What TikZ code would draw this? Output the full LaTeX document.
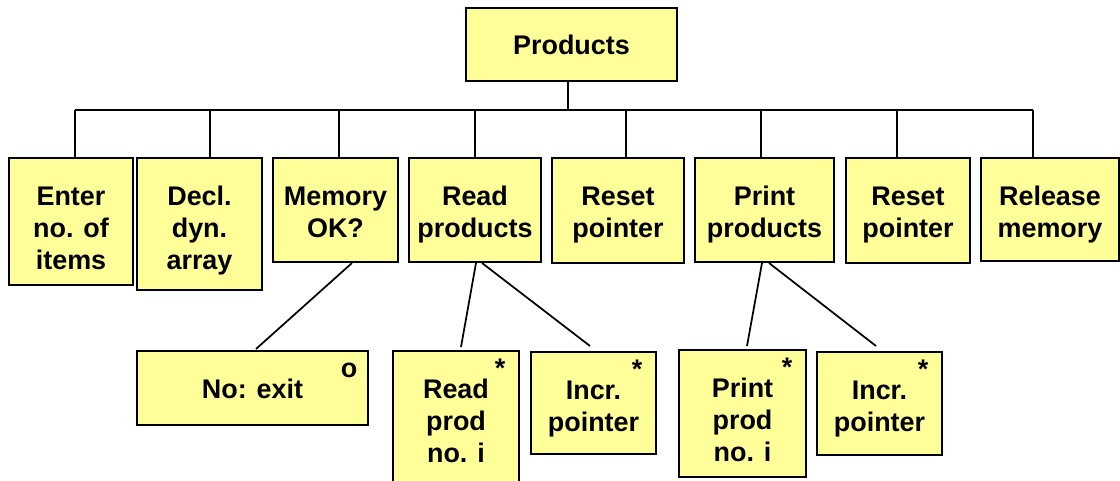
\documentclass[tikz,border=0pt]{standalone}
\usepackage{fontspec}
\setmainfont{Liberation Sans}
\usepackage{xcolor}
\usepackage{tikz}
\usetikzlibrary{calc}

\definecolor{boxyellow}{HTML}{FFFF99}

% lines of a box, first baseline on top
\newcommand{\lines}[1]{\begin{tabular}[t]{@{}c@{}}#1\end{tabular}}

\begin{document}
\begin{tikzpicture}[
    x=0.75pt, y=-0.75pt,
    every node/.style={font=\fontsize{20.2}{24}\selectfont\bfseries},
    box/.style={rectangle, draw, line width=1.5pt, fill=boxyellow, inner sep=0pt},
    boxsize/.style 2 args={minimum width=#1*0.75pt, minimum height=#2*0.75pt,
      text height=35.25pt, text depth={#2*0.75pt-35.25pt}},
    note/.style={anchor=base, inner sep=0pt},
    tree/.style={line width=1.3pt},
  ]

  \useasboundingbox (0,0) rectangle (1120,481);
  \clip (0,0) rectangle (1120,481);

  % top
  \node[box, boxsize={211}{73}] (products) at (571.5, 44.5) {Products};

  % second level
  \node[box, boxsize={124}{127}] (enter)   at (71, 221.5)   {\lines{Enter\\no. of\\items}};
  \node[box, boxsize={125}{132}] (decl)    at (199.5, 224)  {\lines{Decl.\\dyn.\\array}};
  \node[box, boxsize={125}{104}] (memory)  at (335.5, 210)  {\lines{Memory\\OK?}};
  \node[box, boxsize={132}{104}] (readp)   at (475, 210)    {\lines{Read\\products}};
  \node[box, boxsize={132}{105}] (reseta)  at (618, 210.5)  {\lines{Reset\\pointer}};
  \node[box, boxsize={139}{104}] (printp)  at (764.5, 210)  {\lines{Print\\products}};
  \node[box, boxsize={124}{105}] (resetb)  at (908, 210.5)  {\lines{Reset\\pointer}};
  \node[box, boxsize={138}{103}] (release) at (1050, 209.5) {\lines{Release\\memory}};

  % third level
  \node[box, boxsize={231}{74}]  (noexit)    at (252.5, 388)   {No: exit};
  \node[box, boxsize={126}{140}, anchor=north] (readprod) at (456, 350) {\lines{Read\\prod\\no. i}};
  \node[box, boxsize={125}{102}] (incra)     at (593.5, 403)   {\lines{Incr.\\pointer}};
  \node[box, boxsize={127}{127}] (printprod) at (742.5, 413.5) {\lines{Print\\prod\\no. i}};
  \node[box, boxsize={125}{103}] (incrb)     at (879.5, 403.5) {\lines{Incr.\\pointer}};

  % selection and iteration marks
  \node[note] (sel)   at ($(noexit.north east)+(-20,27)$)    {o};
  \node[note] (itera) at ($(readprod.north east)+(-20,27)$)  {*};
  \node[note] (iterb) at ($(incra.north east)+(-20,27)$)     {*};
  \node[note] (iterc) at ($(printprod.north east)+(-20,27)$) {*};
  \node[note] (iterd) at ($(incrb.north east)+(-20,27)$)     {*};

  % stems on the bar
  \coordinate (s0) at (568, 110);
  \coordinate (s1) at (75, 110);
  \coordinate (s2) at (210, 110);
  \coordinate (s3) at (339, 110);
  \coordinate (s4) at (475, 110);
  \coordinate (s5) at (626, 110);
  \coordinate (s6) at (761, 110);
  \coordinate (s7) at (897, 110);
  \coordinate (s8) at (1033, 110);

  \draw[tree] (s0 |- products.south) -- (s0);
  \draw[tree] (s1) -- (s8);
  \draw[tree] (s1) -- (s1 |- enter.north);
  \draw[tree] (s2) -- (s2 |- decl.north);
  \draw[tree] (s3) -- (s3 |- memory.north);
  \draw[tree] (s4) -- (s4 |- readp.north);
  \draw[tree] (s5) -- (s5 |- reseta.north);
  \draw[tree] (s6) -- (s6 |- printp.north);
  \draw[tree] (s7) -- (s7 |- resetb.north);
  \draw[tree] (s8) -- (s8 |- release.north);

  \draw[tree] ($(memory.south)+(16.5,0)$) -- ($(noexit.north)+(3.5,-1)$);
  \draw[tree] ($(readp.south)+(1,0)$)     -- ($(readprod.north)+(5,-3)$);
  \draw[tree] ($(readp.south)+(7,0)$)     -- ($(incra.north)+(-3.5,-5)$);
  \draw[tree] ($(printp.south)+(-2.5,0)$) -- ($(printprod.north)+(4.5,-3)$);
  \draw[tree] ($(printp.south)+(4.5,0)$)  -- ($(incrb.north)+(-3.5,-5)$);

\end{tikzpicture}
\end{document}
